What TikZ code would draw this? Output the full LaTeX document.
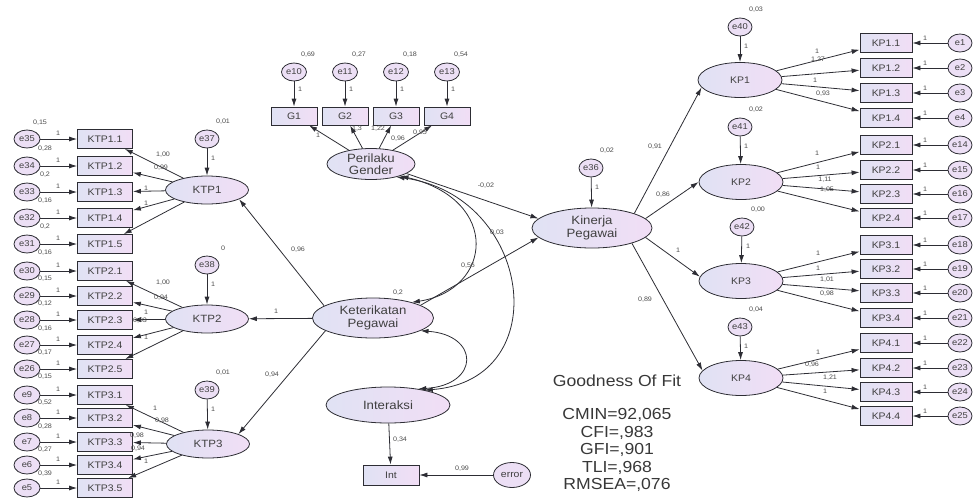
\documentclass[tikz,border=0pt]{standalone}
\usepackage{fontspec}
\setmainfont{Liberation Sans}[FakeStretch=1.1]
\usetikzlibrary{shapes.geometric,arrows.meta}
\definecolor{lavA}{RGB}{224,226,244}
\definecolor{lavB}{RGB}{241,222,245}
\definecolor{lineC}{RGB}{45,45,52}
\begin{document}
\begin{tikzpicture}[x=1pt,y=-1pt,
  lat/.style={ellipse,draw=lineC,line width=0.8pt,left color=lavA,right color=lavB,inner sep=0pt,align=center,font=\fontsize{12}{12.5}\selectfont,text=black!75},
  obs/.style={rectangle,draw=lineC,line width=0.8pt,left color=lavA,right color=lavB,inner sep=0pt,minimum height=19pt,font=\fontsize{9.5}{10}\selectfont,text=black!75},
  err/.style={ellipse,draw=lineC,line width=0.8pt,fill=lavB!70!lavA,inner sep=0pt,minimum width=26pt,minimum height=18pt,font=\fontsize{8.5}{9}\selectfont,text=black!75},
  arr/.style={draw=lineC,line width=0.8pt,-{Latex[length=8pt,width=5pt]}},
  dbl/.style={draw=lineC,line width=0.8pt,{Latex[length=8pt,width=5pt]}-{Latex[length=8pt,width=5pt]}},
  lbl/.style={inner sep=0pt,font=\fontsize{6.5}{7}\selectfont,text=black!70},
  gof/.style={inner sep=0pt,align=center,font=\fontsize{16}{17.5}\selectfont,text=black!78}
]
\useasboundingbox (0,0) rectangle (977,501);

% variance labels of left indicator errors
\foreach \x/\y/\t in {40/123/{0,15},45/149/{0,28},45/175/{0,2},45/201/{0,16},45/227/{0,2},45/253/{0,16},45/279/{0,15},45/304/{0,12},45/329/{0,16},45/353/{0,17},45/377/{0,15},45/403/{0,52},45/427/{0,28},45/450/{0,27},45/474/{0,39}}
  \node[lbl] at (\x,\y) {\t};

% latent variables
\node[lat,minimum width=88pt,minimum height=31pt] (PG) at (371,164) {Perilaku\\Gender};
\node[lat,minimum width=121pt,minimum height=40pt] (KetP) at (373,318) {Keterikatan\\Pegawai};
\node[lat,minimum width=120pt,minimum height=40pt] (KinP) at (592,228) {Kinerja\\Pegawai};
\node[lat,minimum width=124pt,minimum height=36pt] (Inter) at (388,405) {Interaksi};
\node[lat,minimum width=83pt,minimum height=28pt,font=\fontsize{10.5}{11}\selectfont] (KTP1) at (207,190) {KTP1};
\node[lat,minimum width=83pt,minimum height=28pt,font=\fontsize{10.5}{11}\selectfont] (KTP2) at (207,319) {KTP2};
\node[lat,minimum width=83pt,minimum height=28pt,font=\fontsize{10.5}{11}\selectfont] (KTP3) at (208,444) {KTP3};
\node[lat,minimum width=84pt,minimum height=35pt,font=\fontsize{9.5}{10}\selectfont] (KP1) at (740,80) {KP1};
\node[lat,minimum width=84pt,minimum height=35pt,font=\fontsize{9.5}{10}\selectfont] (KP2) at (741,182) {KP2};
\node[lat,minimum width=84pt,minimum height=35pt,font=\fontsize{9.5}{10}\selectfont] (KP3) at (741,281) {KP3};
\node[lat,minimum width=84pt,minimum height=35pt,font=\fontsize{9.5}{10}\selectfont] (KP4) at (741,378) {KP4};

% left indicators
\foreach \g/\j/\y/\e in {1/1/139/35,1/2/166/34,1/3/192/33,1/4/218/32,1/5/244/31,2/1/271/30,2/2/296/29,2/3/320/28,2/4/345/27,2/5/369/26,3/1/395/9,3/2/418/8,3/3/442/7,3/4/465/6,3/5/488/5}{
  \node[obs,minimum width=55pt] (k\g\j) at (105,\y) {KTP\g.\j};
  \node[err] (e\e) at (27,\y) {e\e};
  \draw[arr] (e\e) -- (k\g\j);
  \node[lbl] at (58,\y-6) {1};
  \draw[arr] (KTP\g) -- (k\g\j);
}

% right indicators
\foreach \g/\j/\y/\e in {1/1/43/1,1/2/68/2,1/3/93/3,1/4/118/4,2/1/145/14,2/2/170/15,2/3/194/16,2/4/218/17,3/1/245/18,3/2/269/19,3/3/293/20,3/4/318/21,4/1/343/22,4/2/368/23,4/3/392/24,4/4/416/25}{
  \node[obs,minimum width=52pt] (p\g\j) at (886,\y) {KP\g.\j};
  \node[err,minimum width=24pt] (e\e) at (960,\y) {e\e};
  \draw[arr] (e\e) -- (p\g\j);
  \node[lbl] at (925,\y-5) {1};
  \draw[arr] (KP\g) -- (p\g\j);
}

% gender indicators
\foreach \i/\x/\e/\v in {1/294/10/{0,69},2/345/11/{0,27},3/396/12/{0,18},4/447/13/{0,54}}{
  \node[obs,minimum width=46pt,minimum height=18pt] (G\i) at (\x,116) {G\i};
  \node[err,minimum width=25pt] (e\e) at (\x,72) {e\e};
  \draw[arr] (e\e) -- (G\i);
  \node[lbl] at (\x+6,89) {1};
  \node[lbl] at (\x+14,55) {\v};
  \draw[arr] (PG) -- (G\i);
}

% disturbances of latents
\foreach \n/\t/\x/\y/\v in {37/KTP1/207/139/{0,01},38/KTP2/207/265/{0},39/KTP3/207/390/{0,01},36/KinP/591/168/{0,02},40/KP1/740/27/{0,03},41/KP2/740/127/{0,02},42/KP3/742/227/{0,00},43/KP4/740/327/{0,04}}{
  \node[err,minimum width=24pt] (e\n) at (\x,\y) {e\n};
  \draw[arr] (e\n) -- (\t);
  \node[lbl] at (\x+6,\y+19) {1};
  \node[lbl] at (\x+16,\y-17) {\v};
}

% Int indicator
\node[obs,minimum width=56pt,minimum height=20pt] (IntB) at (391,475) {Int};
\node[err,minimum width=37pt,minimum height=25pt,font=\fontsize{9.5}{10}\selectfont] (errN) at (512,475) {error};
\draw[arr] (Inter) -- (IntB);
\draw[arr] (errN) -- (IntB);

% structural paths
\draw[arr] (KetP.166) -- (KTP1.-16);
\draw[arr] (KetP) -- (KTP2);
\draw[arr] (KetP.195) -- (KTP3.18);
\draw[arr] (PG.-15) -- (KinP.170);
\draw[arr] (KetP.15) -- (KinP.190);
\draw[arr] (KinP.19) -- (KP1.191);
\draw[arr] (KinP.10) -- (KP2.180);
\draw[arr] (KinP.-10) -- (KP3.174);
\draw[arr] (KinP.-21) -- (KP4.169);

% covariances
\draw[dbl] (PG.-22) .. controls (502,200) and (492,290) .. (KetP.22);
\draw[dbl] (PG.-27) .. controls (532,195) and (557,380) .. (Inter.22);
\draw[dbl] (KetP.-15) .. controls (480,335) and (480,385) .. (Inter.28);

% loading labels left
\foreach \x/\y/\t in {163/155/{1,00},161/168/{0,99},146/188/{1},146/203/{1},
  163/283/{1,00},161/298/{0,94},146/312/{1},140/321/{0,93},146/337/{1},
  155/408/{1},162/421/{0,98},137/436/{0,98},138/449/{0,94},146/461/{1}}
  \node[lbl] at (\x,\y) {\t};

% loading labels right
\foreach \x/\y/\t in {817/51/{1},818/60/{1,27},815/80/{1},823/94/{0,93},
  817/153/{1},818/167/{1},825/180/{1,11},827/190/{1,05},
  818/253/{1},818/268/{1},827/280/{1,01},827/294/{0,98},
  818/352/{1},812/365/{0,96},830/378/{1,21},825/391/{1}}
  \node[lbl] at (\x,\y) {\t};

% gender loadings
\foreach \x/\y/\t in {318/135/{1},357/129/{1,3},378/129/{1,22},398/139/{0,96},420/133/{0,95}}
  \node[lbl] at (\x,\y) {\t};

% structural labels
\foreach \x/\y/\t in {298/250/{0,96},276/311/{1},272/375/{0,94},486/186/{-0,02},468/266/{0,56},497/233/{0,03},
  655/147/{0,91},663/195/{0,86},678/250/{1},645/300/{0,89},400/440/{0,34},462/469/{0,99},398/293/{0,2}}
  \node[lbl] at (\x,\y) {\t};

% goodness of fit
\node[gof] (gtitle) at (617,381) {Goodness Of Fit};
\node[gof] (gvals) at (617,450) {CMIN=92,065\\CFI=,983\\GFI=,901\\TLI=,968\\RMSEA=,076};
\end{tikzpicture}
\end{document}
